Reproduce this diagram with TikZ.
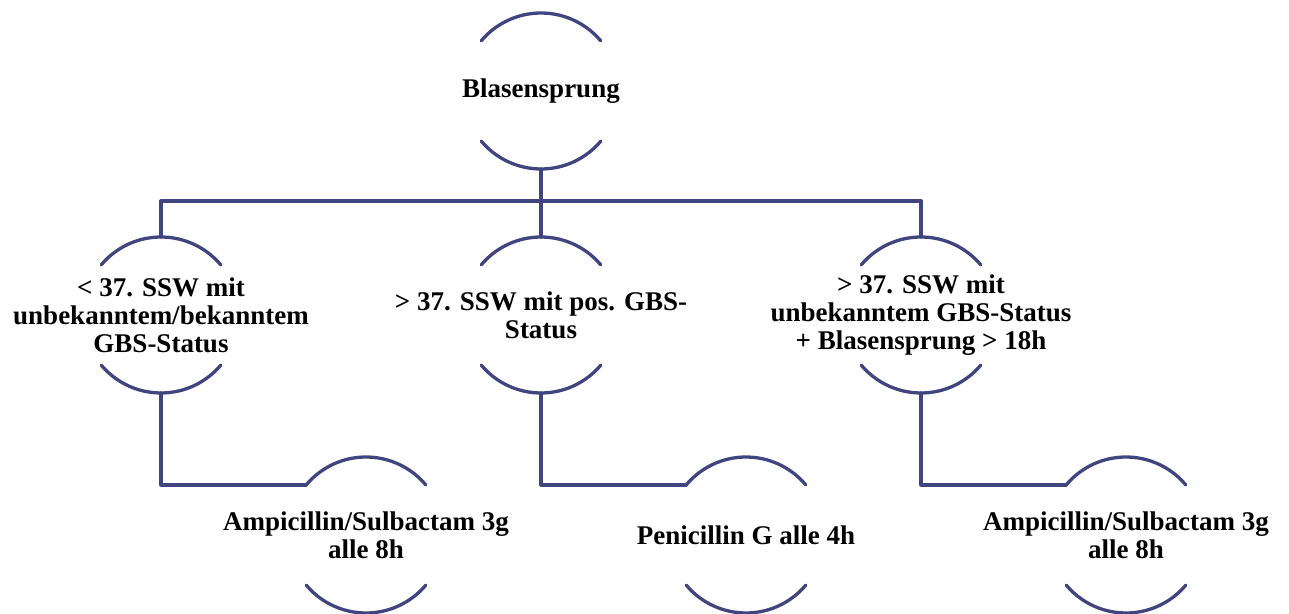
\documentclass[tikz,border=0pt]{standalone}
\usepackage{fontspec}
\setmainfont{Liberation Serif}
\definecolor{ddeeqq}{rgb}{0.25,0.27,0.5}

\begin{document}
\begin{tikzpicture}[line cap=round,line join=round,x=1pt,y=1pt,
	bubble/.style={circle,minimum size=156pt,inner sep=0pt,outer sep=0pt},
	blabel/.style={align=center,font=\fontsize{27}{28}\selectfont\bfseries},
	ast/.style={color=ddeeqq,line width=3.3pt}]
				\useasboundingbox (0,0) rectangle (1289,613);
				\node[bubble,label={[blabel]center:< 37. SSW mit\\unbekanntem/bekanntem\\GBS-Status}] (a) at (161,298) {};
				\node[bubble,label={[blabel]center:Blasensprung}] (root) at (541,522) {};
				\node[bubble,label={[blabel]center:>\ 37. SSW mit pos. GBS-\\Status}] (b) at (541,298) {};
				\node[bubble,label={[blabel]center:> 37. SSW mit\\unbekanntem GBS-Status\\+ Blasensprung > 18h}] (c) at (921,298) {};
				\node[bubble,label={[blabel]center:Ampicillin/Sulbactam 3g\\alle 8h}] (aa) at (366,78) {};
				\node[bubble,label={[blabel]center:Penicillin G alle 4h}] (bb) at (746,78) {};
				\node[bubble,label={[blabel]center:Ampicillin/Sulbactam 3g\\alle 8h}] (cc) at (1126,78) {};
				\coordinate (bus) at (541,412);
				\draw[ast] (root.south) -- (b.north);
				\draw[ast] (a.north) |- (bus) -| (c.north);
				\draw[ast] (a.south) |- (aa.140);
				\draw[ast] (b.south) |- (bb.140);
				\draw[ast] (c.south) |- (cc.140);
				\foreach \n in {root,a,b,c,aa,bb,cc}{
				\draw[ast] (\n.40) arc[start angle=40,end angle=140,radius=78];
				\draw[ast] (\n.220) arc[start angle=220,end angle=320,radius=78];
				}
\end{tikzpicture}
\end{document}
